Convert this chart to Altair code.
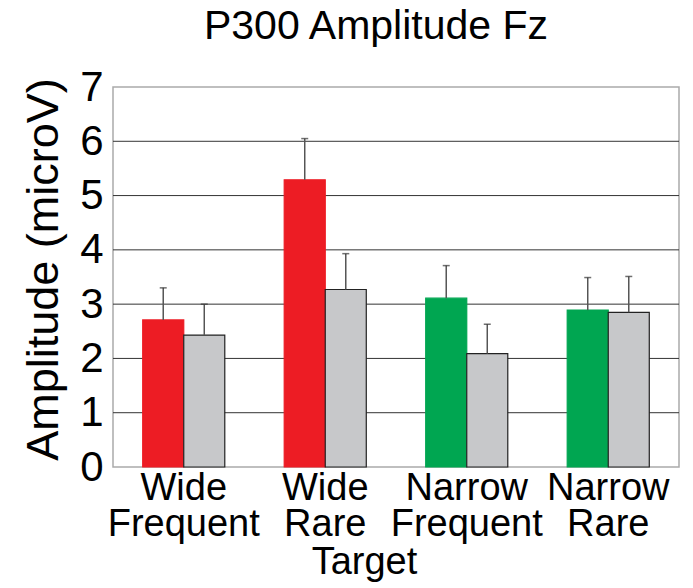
import altair as alt
import pandas as pd

# P300 amplitude at Fz for each target condition
groups = ["Wide Frequent", "Wide Rare", "Narrow Frequent", "Narrow Rare"]
group_colors = ["#ED1C24", "#ED1C24", "#00A651", "#00A651"]
first_means = [2.71, 5.29, 3.11, 2.89]
first_errs = [0.59, 0.76, 0.60, 0.60]
second_means = [2.43, 3.27, 2.09, 2.85]
second_errs = [0.57, 0.66, 0.54, 0.66]
grid_values = [1, 2, 3, 4, 5, 6]

rows = []
for g, c, m1, e1, m2, e2 in zip(groups, group_colors, first_means, first_errs,
                                second_means, second_errs):
    rows.append({"group": g, "series": "a", "mean": m1, "top": m1 + e1,
                 "fill": c, "stroke": c})
    rows.append({"group": g, "series": "b", "mean": m2, "top": m2 + e2,
                 "fill": "#C7C8CA", "stroke": "#222222"})
df = pd.DataFrame(rows)
grid_df = pd.DataFrame({"v": grid_values})

FONT = "Liberation Sans"

x_enc = alt.X(
    "group:N", sort=groups, title="Target",
    scale=alt.Scale(paddingInner=0.42, paddingOuter=0.21),
    axis=alt.Axis(
        labelExpr="split(datum.label, ' ')", labelAngle=0,
        labelFontSize=38, labelLineHeight=36, labelFont=FONT,
        labelColor="black", labelPadding=2,
        ticks=False, domain=False, grid=False,
        titleFontSize=38, titleFont=FONT, titleFontWeight="normal",
        titleColor="black", titlePadding=0, titleX=251,
    ),
)
x_off = alt.XOffset("series:N", scale=alt.Scale(paddingInner=0, paddingOuter=0))
y_scale = alt.Scale(domain=[0, 7], nice=False, zero=True)

grid = alt.Chart(grid_df).mark_rule(color="#333333", strokeWidth=1).encode(
    y=alt.Y("v:Q", scale=y_scale)
)

bars = alt.Chart(df).mark_bar(strokeWidth=1.2).encode(
    x=x_enc,
    xOffset=x_off,
    y=alt.Y(
        "mean:Q", scale=y_scale, title="Amplitude (microV)",
        axis=alt.Axis(
            values=[0, 1, 2, 3, 4, 5, 6, 7], format="d",
            labelFontSize=42, labelFont=FONT, labelColor="black",
            labelPadding=10, ticks=False, domain=False, grid=False,
            titleFontSize=45, titleFont=FONT, titleFontWeight="normal",
            titleColor="black", titlePadding=13, titleY=182,
        ),
    ),
    fill=alt.Fill("fill:N", scale=None),
    stroke=alt.Stroke("stroke:N", scale=None),
)

err = alt.Chart(df).mark_rule(color="#555555", strokeWidth=1.5).encode(
    x=x_enc, xOffset=x_off,
    y=alt.Y("mean:Q", scale=y_scale), y2="top:Q",
)

caps = alt.Chart(df).mark_tick(color="#333333", thickness=1.5, size=7).encode(
    x=x_enc, xOffset=x_off,
    y=alt.Y("top:Q", scale=y_scale),
)

chart = alt.layer(grid, bars, err, caps).properties(
    width=566, height=380,
    title=alt.TitleParams("P300 Amplitude Fz", fontSize=41, font=FONT,
                          fontWeight="normal", color="black", dx=-20,
                          offset=18),
    autosize=alt.AutoSizeParams(type="none"),
    padding={"left": 113, "top": 87, "right": 14, "bottom": 121},
).configure_view(stroke="#AAAAAA", strokeWidth=1.5)

chart.save("out.html", embed_options={"renderer": "svg", "actions": False})
